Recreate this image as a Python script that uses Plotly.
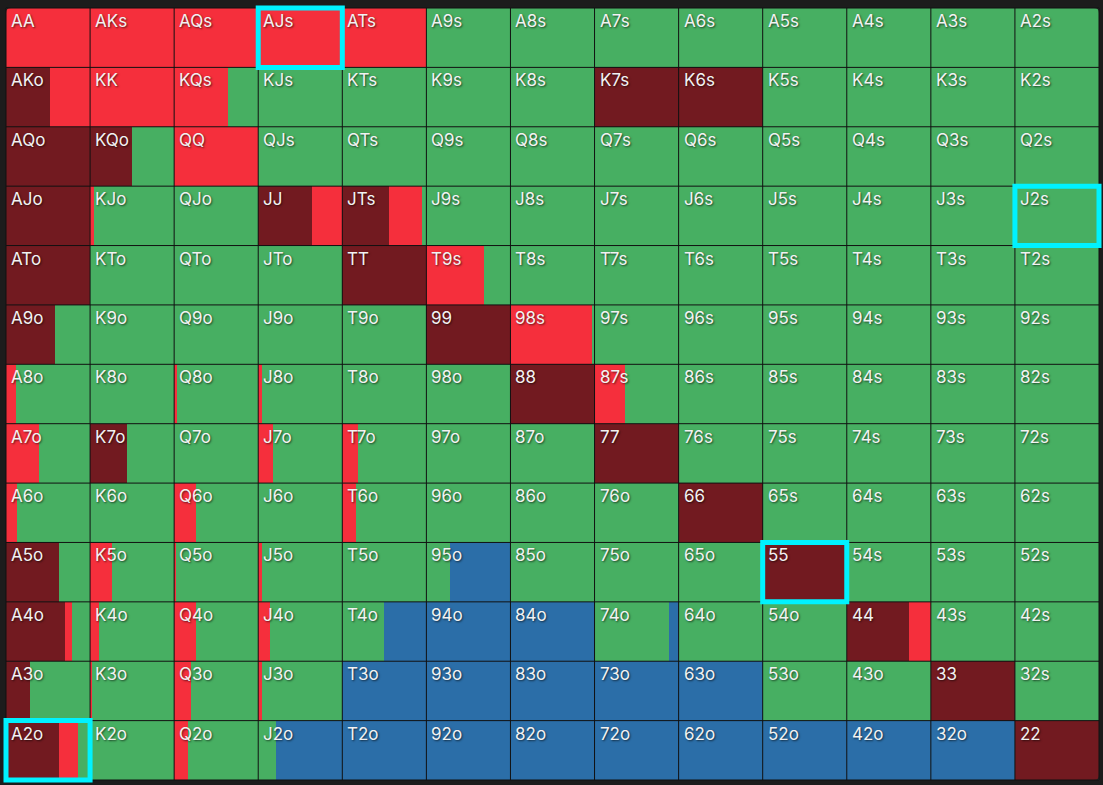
import plotly.graph_objects as go

RANKS = ["A", "K", "Q", "J", "T", "9", "8", "7", "6", "5", "4", "3", "2"]

# frequency of each action per cell (row = first rank, col = second rank)
ALLIN = [  # dark red
    [0, 0, 0, 0, 0, 0, 0, 0, 0, 0, 0, 0, 0],
    [0.52, 0, 0, 0, 0, 0, 0, 1, 1, 0, 0, 0, 0],
    [1, 0.50, 0, 0, 0, 0, 0, 0, 0, 0, 0, 0, 0],
    [1, 0, 0, 0.635, 0.555, 0, 0, 0, 0, 0, 0, 0, 0],
    [1, 0, 0, 0, 1, 0, 0, 0, 0, 0, 0, 0, 0],
    [0.58, 0, 0, 0, 0, 1, 0, 0, 0, 0, 0, 0, 0],
    [0, 0, 0, 0, 0, 0, 1, 0, 0, 0, 0, 0, 0],
    [0, 0.44, 0, 0, 0, 0, 0, 1, 0, 0, 0, 0, 0],
    [0, 0, 0, 0, 0, 0, 0, 0, 1, 0, 0, 0, 0],
    [0.63, 0, 0, 0, 0, 0, 0, 0, 0, 1, 0, 0, 0],
    [0.70, 0, 0, 0, 0, 0, 0, 0, 0, 0, 0.745, 0, 0],
    [0.28, 0, 0, 0, 0, 0, 0, 0, 0, 0, 0, 1, 0],
    [0.63, 0, 0, 0, 0, 0, 0, 0, 0, 0, 0, 0, 1],
]
RAISE = [  # red
    [1, 1, 1, 1, 1, 0, 0, 0, 0, 0, 0, 0, 0],
    [0.48, 1, 0.64, 0, 0, 0, 0, 0, 0, 0, 0, 0, 0],
    [0, 0, 1, 0, 0, 0, 0, 0, 0, 0, 0, 0, 0],
    [0, 0.05, 0, 0.365, 0.39, 0, 0, 0, 0, 0, 0, 0, 0],
    [0, 0, 0, 0, 0, 0.685, 0, 0, 0, 0, 0, 0, 0],
    [0, 0, 0, 0, 0, 0, 0.975, 0, 0, 0, 0, 0, 0],
    [0.12, 0, 0.035, 0.04, 0, 0, 0, 0.36, 0, 0, 0, 0, 0],
    [0.39, 0, 0, 0.18, 0.19, 0, 0, 0, 0, 0, 0, 0, 0],
    [0.13, 0, 0.26, 0, 0.16, 0, 0, 0, 0, 0, 0, 0, 0],
    [0, 0.26, 0.02, 0.04, 0, 0, 0, 0, 0, 0, 0, 0, 0],
    [0.083, 0.11, 0.26, 0.135, 0, 0, 0, 0, 0, 0, 0.255, 0, 0],
    [0, 0.025, 0.205, 0.04, 0, 0, 0, 0, 0, 0, 0, 0, 0],
    [0.23, 0, 0.16, 0, 0, 0, 0, 0, 0, 0, 0, 0, 0],
]
CALL = [  # green
    [0, 0, 0, 0, 0, 1, 1, 1, 1, 1, 1, 1, 1],
    [0, 0, 0.36, 1, 1, 1, 1, 0, 0, 1, 1, 1, 1],
    [0, 0.50, 0, 1, 1, 1, 1, 1, 1, 1, 1, 1, 1],
    [0, 0.95, 1, 0, 0.055, 1, 1, 1, 1, 1, 1, 1, 1],
    [0, 1, 1, 1, 0, 0.315, 1, 1, 1, 1, 1, 1, 1],
    [0.42, 1, 1, 1, 1, 0, 0.025, 1, 1, 1, 1, 1, 1],
    [0.88, 1, 0.965, 0.96, 1, 1, 0, 0.64, 1, 1, 1, 1, 1],
    [0.61, 0.56, 1, 0.82, 0.81, 1, 1, 0, 1, 1, 1, 1, 1],
    [0.87, 1, 0.74, 1, 0.84, 1, 1, 1, 0, 1, 1, 1, 1],
    [0.37, 0.74, 0.98, 0.96, 1, 0.276, 1, 1, 1, 0, 1, 1, 1],
    [0.217, 0.89, 0.74, 0.865, 0.50, 0, 0, 0.89, 1, 1, 0, 1, 1],
    [0.72, 0.975, 0.795, 0.96, 0, 0, 0, 0, 0, 1, 1, 0, 1],
    [0.14, 1, 0.84, 0.21, 0, 0, 0, 0, 0, 0, 0, 0, 0],
]
FOLD = [  # blue
    [0, 0, 0, 0, 0, 0, 0, 0, 0, 0, 0, 0, 0],
    [0, 0, 0, 0, 0, 0, 0, 0, 0, 0, 0, 0, 0],
    [0, 0, 0, 0, 0, 0, 0, 0, 0, 0, 0, 0, 0],
    [0, 0, 0, 0, 0, 0, 0, 0, 0, 0, 0, 0, 0],
    [0, 0, 0, 0, 0, 0, 0, 0, 0, 0, 0, 0, 0],
    [0, 0, 0, 0, 0, 0, 0, 0, 0, 0, 0, 0, 0],
    [0, 0, 0, 0, 0, 0, 0, 0, 0, 0, 0, 0, 0],
    [0, 0, 0, 0, 0, 0, 0, 0, 0, 0, 0, 0, 0],
    [0, 0, 0, 0, 0, 0, 0, 0, 0, 0, 0, 0, 0],
    [0, 0, 0, 0, 0, 0.724, 0, 0, 0, 0, 0, 0, 0],
    [0, 0, 0, 0, 0.50, 1, 1, 0.11, 0, 0, 0, 0, 0],
    [0, 0, 0, 0, 1, 1, 1, 1, 1, 0, 0, 0, 0],
    [0, 0, 0, 0.79, 1, 1, 1, 1, 1, 1, 1, 1, 0],
]
HIGHLIGHT = ["AJs", "J2s", "55", "A2o"]

ACTIONS = [
    ("All-in", ALLIN, "#721a20"),
    ("Raise", RAISE, "#f52f3c"),
    ("Call", CALL, "#47af62"),
    ("Fold", FOLD, "#2b6ea8"),
]
BG = "#1c1c1c"


def hand_label(r, c):
    if r == c:
        return RANKS[r] + RANKS[c]
    if c > r:
        return RANKS[r] + RANKS[c] + "s"
    return RANKS[c] + RANKS[r] + "o"


fig = go.Figure()
cum = [[0.0] * 13 for _ in range(13)]
for name, mat, color in ACTIONS:
    xs, ys, bases = [], [], []
    for r in range(13):
        for c in range(13):
            v = mat[r][c]
            if v > 0:
                xs.append(v)
                ys.append(r + 0.5)
                bases.append(c + cum[r][c])
                cum[r][c] += v
    fig.add_trace(go.Bar(
        orientation="h", x=xs, y=ys, base=bases, width=1.0,
        marker=dict(color=color, line=dict(width=0)),
        name=name, showlegend=False, hoverinfo="skip",
    ))

W, H = 1103, 785
left, top, right, bottom = 6, 8, 1099, 780
cw = (right - left) / 13
ch = (bottom - top) / 13
xr = [-left / cw, 13 + (W - right) / cw]
yr = [13 + (H - bottom) / ch, -top / ch]

shapes = []
for i in range(14):
    shapes.append(dict(type="line", x0=i, x1=i, y0=0, y1=13, xref="x", yref="y",
                       line=dict(color="#111111", width=1), layer="above"))
    shapes.append(dict(type="line", x0=0, x1=13, y0=i, y1=i, xref="x", yref="y",
                       line=dict(color="#111111", width=1), layer="above"))

# rounded outer corners of the grid
rx, ry = 5 / cw, 5 / ch
for (cx, cy, sx, sy) in [(0, 0, 1, 1), (13, 0, -1, 1), (0, 13, 1, -1), (13, 13, -1, -1)]:
    p = (f"M {cx},{cy} L {cx + sx * rx},{cy} Q {cx},{cy} {cx},{cy + sy * ry} Z")
    shapes.append(dict(type="path", path=p, xref="x", yref="y", layer="above",
                       fillcolor=BG, line=dict(width=0)))

annotations = []
for r in range(13):
    for c in range(13):
        lab = hand_label(r, c)
        annotations.append(dict(
            x=c, y=r, xref="x", yref="y", text=lab, showarrow=False,
            xanchor="left", yanchor="top", xshift=3, yshift=-1,
            font=dict(family="Inter, Roboto, sans-serif", size=17, color="#f2f2f2",
                      shadow="1px 1px 2px rgba(0,0,0,0.6)"),
        ))
        if lab in HIGHLIGHT:
            shapes.append(dict(type="rect", x0=c, x1=c + 1, y0=r, y1=r + 1,
                               xref="x", yref="y", layer="above",
                               line=dict(color="#00f2ff", width=5)))

fig.update_layout(
    width=W, height=H,
    margin=dict(l=0, r=0, t=0, b=0),
    paper_bgcolor=BG, plot_bgcolor=BG,
    barmode="overlay", bargap=0,
    xaxis=dict(range=xr, visible=False, fixedrange=True),
    yaxis=dict(range=yr, visible=False, fixedrange=True),
    shapes=shapes, annotations=annotations,
)

fig.write_html("out.html")
